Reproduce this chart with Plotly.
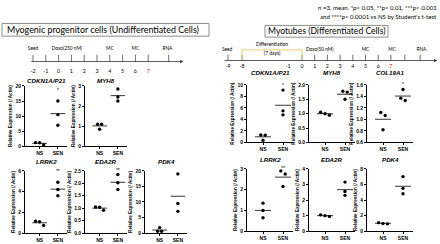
import numpy as np
import plotly.graph_objects as go

W, H = 440, 244
GROUPS = ["NS", "SEN"]
YTITLE = "Relative Expression (/ Actin)"

# ---------------- data: undifferentiated (myogenic progenitor) cells ----------------
left_genes = ["CDKN1A/P21", "MYH8", "LRRK2", "EDA2R", "PDK4"]
left_ns = [[1.25, 1.2, 0.55], [1.1, 1.1, 0.85], [1.15, 1.1, 0.75], [1.05, 1.04, 0.92], [1.8, 0.6, 0.6]]
left_sen = [[15.0, 10.5, 7.0], [2.85, 2.45, 2.25], [4.9, 4.2, 3.6], [2.35, 2.02, 1.75], [19.0, 9.5, 7.0]]
left_sig = ["*", "**", "**", "**", "*"]
left_sig_y = [18.5, 3.1, 5.9, 2.5, 21.0]
left_ymin = [0, 0, 0, 0, 0]
left_ymax = [20, 3, 6, 2.5, 20]
left_dtick = [5, 1, 2, 0.5, 5]
left_fmt = ["{:.0f}", "{:.0f}", "{:.0f}", "{:.1f}", "{:.0f}"]

# ---------------- data: differentiated cells (myotubes) ----------------
right_genes = ["CDKN1A/P21", "MYH8", "COL19A1", "LRRK2", "EDA2R", "PDK4"]
right_ns = [[1.3, 1.25, 0.4], [1.05, 1.0, 0.95], [1.12, 1.07, 0.82], [1.35, 1.0, 0.65], [1.05, 1.0, 0.95], [1.1, 1.0, 0.95]]
right_sen = [[9.1, 5.5, 4.8], [1.78, 1.75, 1.5], [1.52, 1.37, 1.33], [2.9, 2.75, 2.15], [3.15, 2.55, 2.3], [7.0, 5.5, 4.8]]
right_sig = ["*", "**", "*", "**", "**", "**"]
right_sig_y = [9.9, 2.05, 1.6, 3.0, 4.1, 8.2]
right_ymin = [0, 0, 0.6, 0, 0, 0]
right_ymax = [10, 2.0, 1.6, 3, 4, 8]
right_dtick = [2, 0.5, 0.2, 1, 1, 2]
right_fmt = ["{:.0f}", "{:.1f}", "{:.1f}", "{:.0f}", "{:.0f}", "{:.0f}"]

# ---------------- timelines ----------------
left_day_labels = ["-2", "-1", "0", "1", "2", "3", "4", "5", "6", "7"]
left_day_pos = [-2, -1, 0, 1, 2, 3, 4, 5, 6, 7]
left_tick_pos = [-2, -1, 0, 1, 2, 3, 4, 5, 6, 7, 8.6]
left_events = ["Seed", "Doxo(250 nM)", "MC", "MC", "RNA"]
left_event_pos = [-2, 0.65, 4, 6, 8.5]

right_day_labels = ["-9", "-8", "-1", "0", "1", "2", "3", "4", "5", "6", "7"]
right_day_pos = [-5.83, -4.72, -1.1, 0, 1, 2, 3, 4, 5, 6, 7]
right_tick_pos = [-5.83, -4.72, 0, 1, 2, 3, 4, 5, 6, 7, 8.1, 9.3]
right_events = ["Seed", "Doxo(50 nM)", "MC", "MC", "RNA"]
right_event_pos = [-5.9, 1.4, 5.0, 7.1, 9.4]
diff_span = [-4.72, 0]

BLACK = "#000000"
RED = "#FF0000"
PANEL_FONT = "Liberation Sans, Arial, sans-serif"
TEXT_FONT = "Lato, Carlito, sans-serif"

# ---------------- layout geometry (pixels) ----------------
panels = []
lt = dict(top=85, bottom=147, tc=80)
lb = dict(top=172, bottom=236, tc=163)
rt = dict(top=84, bottom=143, tc=72)
rb = dict(top=170, bottom=234, tc=161)
left_geo = [(25, lt), (85, lt), (25, lb), (85, lb), (145, lb)]
right_geo = [(247, rt), (309, rt), (367, rt), (247, rb), (309, rb), (367, rb)]
for i, g in enumerate(left_genes):
    panels.append(dict(gene=g, ns=left_ns[i], sen=left_sen[i], sig=left_sig[i], sig_y=left_sig_y[i],
                       ymin=left_ymin[i], ymax=left_ymax[i], dtick=left_dtick[i], fmt=left_fmt[i],
                       x0=left_geo[i][0], w=42, **left_geo[i][1]))
for i, g in enumerate(right_genes):
    panels.append(dict(gene=g, ns=right_ns[i], sen=right_sen[i], sig=right_sig[i], sig_y=right_sig_y[i],
                       ymin=right_ymin[i], ymax=right_ymax[i], dtick=right_dtick[i], fmt=right_fmt[i],
                       x0=right_geo[i][0], w=46, **right_geo[i][1]))


def spread(vals, thr):
    order = np.argsort(vals)[::-1]
    offs = np.zeros(len(vals))
    clusters, cur = [], [order[0]]
    for j in order[1:]:
        if abs(vals[cur[-1]] - vals[j]) < thr:
            cur.append(j)
        else:
            clusters.append(cur)
            cur = [j]
    clusters.append(cur)
    for c in clusters:
        n = len(c)
        for m, j in enumerate(c):
            offs[j] = (m - (n - 1) / 2) * 0.22
    return offs


fig = go.Figure()
layout = dict(width=W, height=H, margin=dict(l=0, r=0, t=0, b=0), paper_bgcolor="white",
              plot_bgcolor="white", showlegend=False)
annotations, shapes = [], []

for k, p in enumerate(panels, start=1):
    xr = "x" if k == 1 else f"x{k}"
    yr = "y" if k == 1 else f"y{k}"
    xa = "xaxis" if k == 1 else f"xaxis{k}"
    ya = "yaxis" if k == 1 else f"yaxis{k}"
    rng = p["ymax"] - p["ymin"]
    xs, ys = [], []
    for gi, vals in enumerate([p["ns"], p["sen"]]):
        v = np.array(vals)
        xs += list(gi + spread(v, 0.06 * rng))
        ys += list(v)
    fig.add_trace(go.Scatter(x=xs, y=ys, xaxis=xr, yaxis=yr, mode="markers",
                             marker=dict(color=BLACK, size=3.4), cliponaxis=False, hoverinfo="skip"))
    mx, my = [], []
    for gi, vals in enumerate([p["ns"], p["sen"]]):
        m = float(np.mean(vals))
        mx += [gi - 0.4, gi + 0.4, None]
        my += [m, m, None]
    fig.add_trace(go.Scatter(x=mx, y=my, xaxis=xr, yaxis=yr, mode="lines",
                             line=dict(color=BLACK, width=0.8), cliponaxis=False, hoverinfo="skip"))
    fig.add_trace(go.Scatter(x=[1], y=[p["sig_y"]], xaxis=xr, yaxis=yr, mode="text", text=[p["sig"]],
                             textfont=dict(size=5, color=BLACK, family=PANEL_FONT),
                             cliponaxis=False, hoverinfo="skip"))
    tv = list(np.round(np.arange(p["ymin"], p["ymax"] + 1e-9, p["dtick"]), 6))
    layout[ya] = dict(domain=[1 - p["bottom"] / H, 1 - p["top"] / H], range=[p["ymin"], p["ymax"]],
                      anchor=xr, tickvals=tv, ticktext=[p["fmt"].format(t) for t in tv],
                      showline=True, linecolor=BLACK, linewidth=0.8, ticks="outside", ticklen=2,
                      tickwidth=0.8, tickcolor=BLACK, showgrid=False, zeroline=False,
                      tickfont=dict(size=5, family=PANEL_FONT, color=BLACK, weight="bold"),
                      title=dict(text=YTITLE, standoff=2,
                                 font=dict(size=4.6, family=PANEL_FONT, color=BLACK, weight="bold")))
    layout[xa] = dict(domain=[p["x0"] / W, (p["x0"] + p["w"]) / W], range=[-0.8, 1.5], anchor=yr,
                      tickvals=[0, 1], ticktext=GROUPS, showline=True, linecolor=BLACK, linewidth=0.8,
                      ticks="outside", ticklen=2, tickwidth=0.8, tickcolor=BLACK, showgrid=False,
                      zeroline=False, tickfont=dict(size=5, family=PANEL_FONT, color=BLACK, weight="bold"))
    annotations.append(dict(text=f"<b><i>{p['gene']}</i></b>", xref=f"{xr} domain", yref=f"{yr} domain",
                            x=0.5, y=1, xanchor="center", yanchor="middle",
                            yshift=p["top"] - p["tc"], showarrow=False,
                            font=dict(size=6.2, family=PANEL_FONT, color=BLACK)))

# ---------------- timelines ----------------
def timeline(k, x_px0, x_px1, anchor_px, anchor_day, px_per_day, axis_y_px, y_px0, y_px1,
             day_labels, day_pos, tick_pos, tick_h, num_off, events, event_pos, ev_off,
             line_from, line_to):
    xr, yr = f"x{k}", f"y{k}"
    layout[f"xaxis{k}"] = dict(domain=[x_px0 / W, x_px1 / W], visible=False, anchor=yr,
                               range=[anchor_day + (x_px0 - anchor_px) / px_per_day,
                                      anchor_day + (x_px1 - anchor_px) / px_per_day])
    layout[f"yaxis{k}"] = dict(domain=[1 - y_px1 / H, 1 - y_px0 / H], visible=False, anchor=xr,
                               range=[-(y_px1 - axis_y_px), axis_y_px - y_px0])
    tx, ty = [], []
    for t in tick_pos:
        tx += [t, t, None]
        ty += [0, tick_h, None]
    fig.add_trace(go.Scatter(x=tx, y=ty, xaxis=xr, yaxis=yr, mode="lines",
                             line=dict(color="#333333", width=0.7), hoverinfo="skip"))
    fig.add_trace(go.Scatter(x=day_pos, y=[-num_off] * len(day_pos), xaxis=xr, yaxis=yr, mode="text",
                             text=day_labels, cliponaxis=False, hoverinfo="skip",
                             textfont=dict(size=5.3, family=TEXT_FONT,
                                           color=[RED if d == "7" else BLACK for d in day_labels])))
    fig.add_trace(go.Scatter(x=event_pos, y=[ev_off] * len(event_pos), xaxis=xr, yaxis=yr, mode="text",
                             text=events, cliponaxis=False, hoverinfo="skip",
                             textfont=dict(size=4.8, family=TEXT_FONT, color=BLACK)))
    annotations.append(dict(x=line_to, y=0, ax=line_from, ay=0, xref=xr, yref=yr, axref=xr, ayref=yr,
                            text="", showarrow=True, arrowhead=2, arrowsize=0.8, arrowwidth=0.8,
                            arrowcolor="#333333"))
    return xr, yr


timeline(12, 0, 220, 33, -2, 12.8, 60, 38, 78, left_day_labels, left_day_pos, left_tick_pos,
         7, 10.5, left_events, left_event_pos, 13, -2.25, 9.75)
xr, yr = timeline(13, 220, 440, 302, 0, 12.7, 59, 36, 72, right_day_labels, right_day_pos,
                  right_tick_pos, 6, 6.5, right_events, right_event_pos, 11, -6.22, 10.65)
fig.add_trace(go.Scatter(x=[diff_span[0], diff_span[0], diff_span[1], diff_span[1]], y=[1, 11, 11, 1],
                         xaxis=xr, yaxis=yr, mode="lines", line=dict(color="#F2C36B", width=0.9),
                         hoverinfo="skip"))
mid = (diff_span[0] + diff_span[1]) / 2
fig.add_trace(go.Scatter(x=[mid, mid], y=[16, 6.5], xaxis=xr, yaxis=yr, mode="text",
                         text=["Differentiation", "(7 days)"], cliponaxis=False, hoverinfo="skip",
                         textfont=dict(size=5, family=TEXT_FONT, color=BLACK)))

# ---------------- headers ----------------
shapes.append(dict(type="rect", xref="paper", yref="paper", x0=2 / W, x1=209 / W,
                   y0=1 - 34 / H, y1=1 - 21 / H, line=dict(color="#808080", width=0.9)))
annotations.append(dict(text="Myogenic progenitor cells (Undifferentiated Cells)", xref="paper", yref="paper",
                        x=5 / W, y=1 - 27.5 / H, xanchor="left", yanchor="middle", showarrow=False,
                        font=dict(size=8.9, family=TEXT_FONT, color=BLACK)))
shapes.append(dict(type="rect", xref="paper", yref="paper", x0=265 / W, x1=388 / W,
                   y0=1 - 35 / H, y1=1 - 23 / H, line=dict(color="#808080", width=0.9)))
annotations.append(dict(text="Myotubes (Differentiated Cells)", xref="paper", yref="paper",
                        x=326.5 / W, y=1 - 29 / H, xanchor="center", yanchor="middle", showarrow=False,
                        font=dict(size=8.6, family=TEXT_FONT, color=BLACK)))
annotations.append(dict(text="n =3, mean. *<i>p</i>< 0.05, **<i>p</i>< 0.01, ***<i>p</i>< 0.001",
                        xref="paper", yref="paper", x=439 / W, y=1 - 5 / H, xanchor="right",
                        yanchor="middle", showarrow=False, font=dict(size=6.1, family=TEXT_FONT, color=BLACK)))
annotations.append(dict(text="and ****<i>p</i>< 0.0001 vs NS by Student's t-test",
                        xref="paper", yref="paper", x=439 / W, y=1 - 14 / H, xanchor="right",
                        yanchor="middle", showarrow=False, font=dict(size=6.1, family=TEXT_FONT, color=BLACK)))

layout["annotations"] = annotations
layout["shapes"] = shapes
fig.update_layout(**layout)
fig.write_html("out.html", config={"displayModeBar": False},
               post_script="document.body.style.margin='0';document.body.style.overflow='hidden';")
